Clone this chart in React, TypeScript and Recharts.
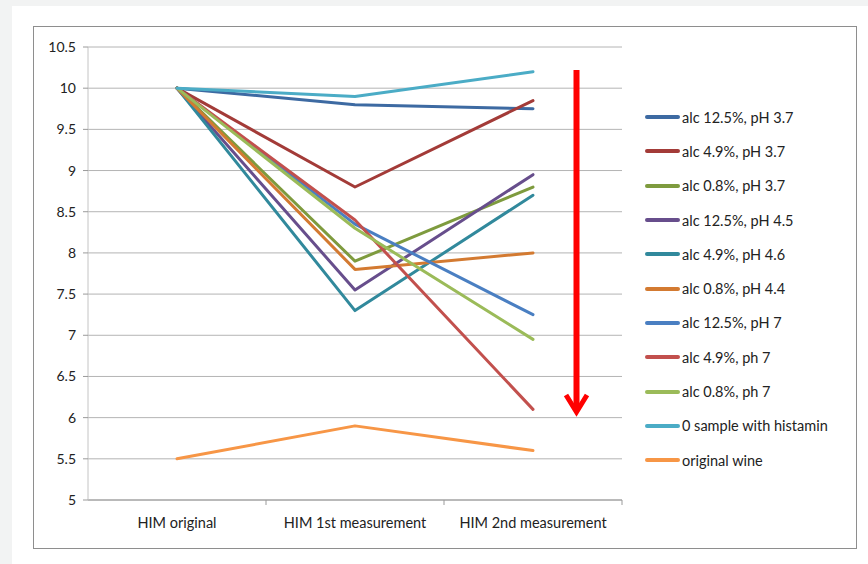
import { LineChart, Line, XAxis, YAxis, CartesianGrid } from "recharts";

const stages = ["HIM original", "HIM 1st measurement", "HIM 2nd measurement"];
const yTicks = [5, 5.5, 6, 6.5, 7, 7.5, 8, 8.5, 9, 9.5, 10, 10.5];

const alc125ph37 = [10, 9.8, 9.75];
const alc49ph37 = [10, 8.8, 9.85];
const alc08ph37 = [10, 7.9, 8.8];
const alc125ph45 = [10, 7.55, 8.95];
const alc49ph46 = [10, 7.3, 8.7];
const alc08ph44 = [10, 7.8, 8.0];
const alc125ph7 = [10, 8.35, 7.25];
const alc49ph7 = [10, 8.4, 6.1];
const alc08ph7 = [10, 8.3, 6.95];
const zeroSample = [10, 9.9, 10.2];
const originalWine = [5.5, 5.9, 5.6];

const SERIES = [
	{ key: "s1", label: "alc 12.5%, pH 3.7", color: "#3d6aa2", values: alc125ph37 },
	{ key: "s2", label: "alc 4.9%, pH 3.7", color: "#a33b38", values: alc49ph37 },
	{ key: "s3", label: "alc 0.8%, pH 3.7", color: "#7e9b3e", values: alc08ph37 },
	{ key: "s4", label: "alc 12.5%, pH 4.5", color: "#674e8c", values: alc125ph45 },
	{ key: "s5", label: "alc 4.9%, pH 4.6", color: "#31899c", values: alc49ph46 },
	{ key: "s6", label: "alc 0.8%, pH 4.4", color: "#d37a31", values: alc08ph44 },
	{ key: "s7", label: "alc 12.5%, pH 7", color: "#4a7fc2", values: alc125ph7 },
	{ key: "s8", label: "alc 4.9%, ph 7", color: "#c2504d", values: alc49ph7 },
	{ key: "s9", label: "alc 0.8%, ph 7", color: "#9bbb59", values: alc08ph7 },
	{ key: "s10", label: "0 sample with histamin", color: "#4bacc6", values: zeroSample },
	{ key: "s11", label: "original wine", color: "#f79646", values: originalWine },
];

const data = stages.map((stage, i) => {
	const row: Record<string, string | number> = { stage };
	SERIES.forEach((s) => {
		row[s.key] = s.values[i];
	});
	return row;
});

const FONT = "Lato, 'Open Sans', sans-serif";
const HALF_BAND = 89;

// category label plus a small tick at the right edge of its band
function StageTick(props: any) {
	const { x, y, payload } = props;
	return (
		<g>
			<line x1={x + HALF_BAND} y1={y - 8} x2={x + HALF_BAND} y2={y - 3} stroke="#9a9a9a" />
			<text x={x} y={y + 20} textAnchor="middle" fontSize={14.5} fill="#222" fontFamily={FONT}>
				{payload.value}
			</text>
		</g>
	);
}

function SeriesLegend() {
	return (
		<div style={{ fontFamily: FONT, fontSize: 14.5, color: "#222" }}>
			{SERIES.map((s) => (
				<div key={s.key} style={{ display: "flex", alignItems: "center", height: 34.3 }}>
					<span
						style={{
							display: "inline-block",
							width: 35,
							height: 4,
							borderRadius: 2,
							background: s.color,
							marginRight: 2,
						}}
					/>
					<span>{s.label}</span>
				</div>
			))}
		</div>
	);
}

export default function App() {
	return (
		<div style={{ position: "absolute", left: 0, top: 0, width: 868, height: 564, background: "#f2f3f3" }}>
			<div style={{ position: "absolute", left: 12, top: 6, width: 856, height: 558, background: "#fff" }} />
			<div
				style={{
					position: "absolute",
					left: 33,
					top: 26,
					width: 822,
					height: 521,
					border: "1px solid #8e8e8e",
					background: "#fff",
				}}
			>
				<LineChart width={822} height={521} data={data} margin={{ top: 20, right: 234, bottom: 18, left: 0 }}>
					<CartesianGrid vertical={false} stroke="#b4b4b4" strokeWidth={1} />
					<XAxis
						dataKey="stage"
						padding={{ left: HALF_BAND, right: HALF_BAND }}
						axisLine={{ stroke: "#9a9a9a" }}
						tickLine={false}
						tick={<StageTick />}
						interval={0}
						height={30}
					/>
					<YAxis
						domain={[5, 10.5]}
						ticks={yTicks}
						width={54}
						tickSize={5}
						tickMargin={7}
						axisLine={{ stroke: "#c4c4c4" }}
						tickLine={{ stroke: "#9a9a9a" }}
						tick={{ fontSize: 14, fill: "#222", fontFamily: FONT }}
						interval={0}
					/>
					{SERIES.map((s) => (
						<Line
							key={s.key}
							dataKey={s.key}
							name={s.label}
							stroke={s.color}
							strokeWidth={3}
							strokeLinecap="round"
							strokeLinejoin="round"
							dot={false}
							activeDot={false}
							isAnimationActive={false}
						/>
					))}
				</LineChart>
				<div style={{ position: "absolute", left: 611, top: 73 }}>
					<SeriesLegend />
				</div>
			</div>
			<svg width={868} height={564} style={{ position: "absolute", left: 0, top: 0, pointerEvents: "none" }}>
				<line x1={576.5} y1={70} x2={576.5} y2={411} stroke="#ff0000" strokeWidth={6} />
				<polyline
					points="566,395 576.5,412 587,395"
					fill="none"
					stroke="#ff0000"
					strokeWidth={5}
					strokeLinejoin="miter"
				/>
			</svg>
		</div>
	);
}
